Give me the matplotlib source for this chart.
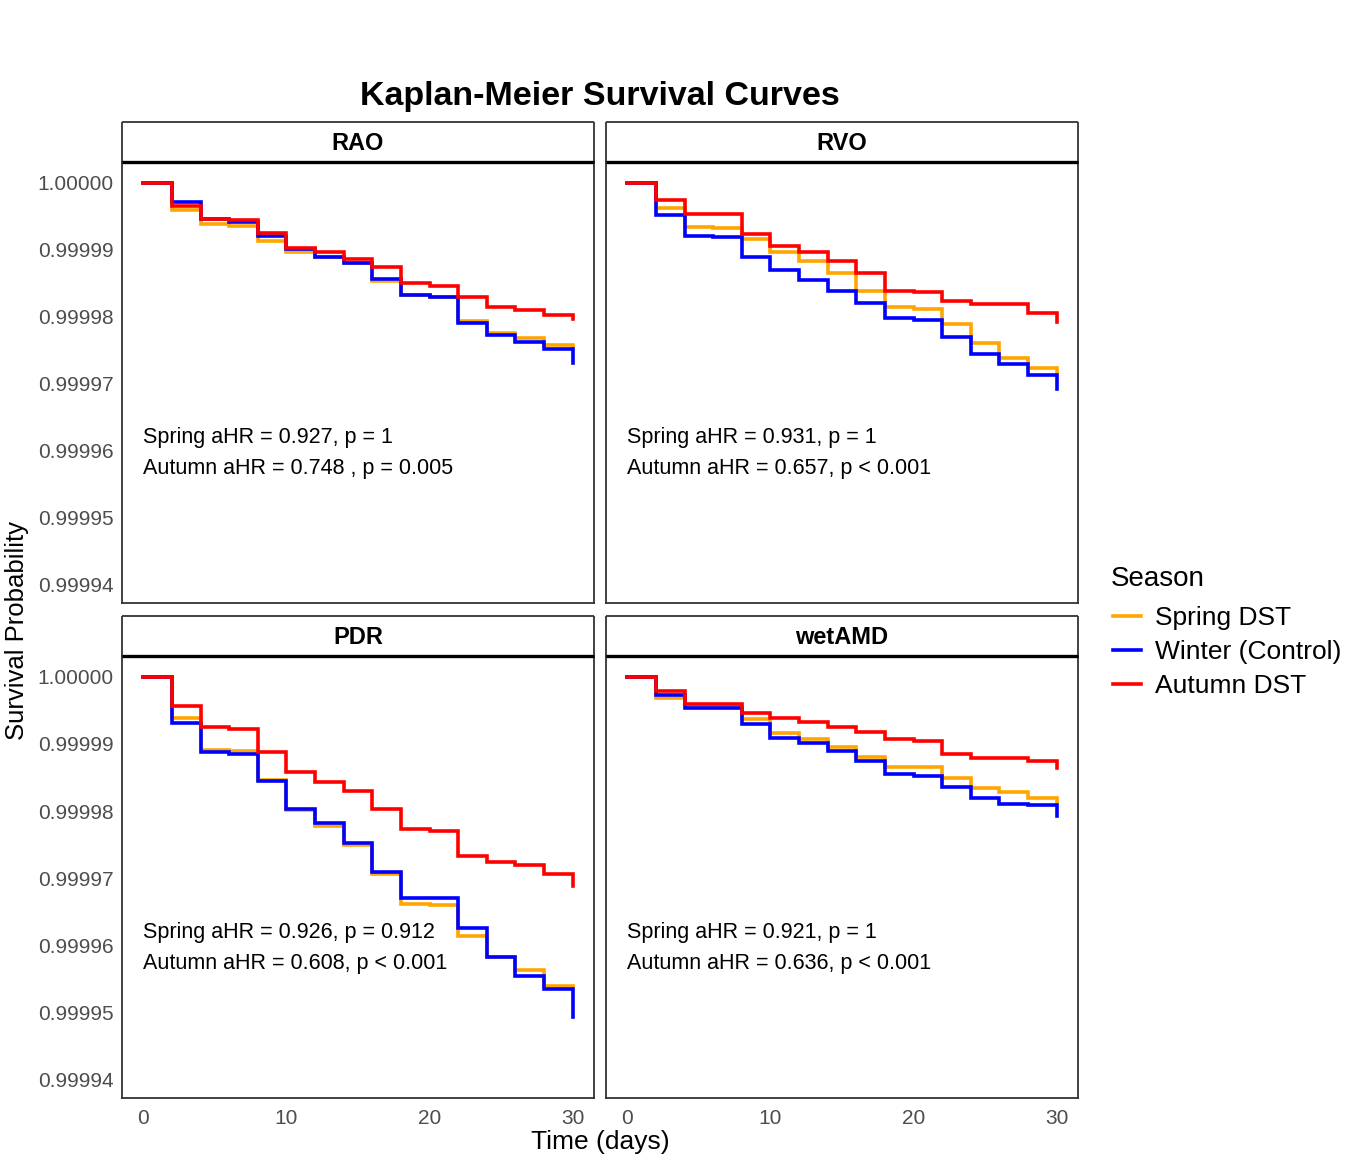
import matplotlib
matplotlib.use("Agg")
import matplotlib.pyplot as plt
from matplotlib.lines import Line2D

plt.rcParams['font.family'] = ['Liberation Sans', 'DejaVu Sans']

# time points (days) where the curves step
dias = [0, 2, 4, 6, 8, 10, 12, 14, 16, 18, 20, 22, 24, 26, 28, 30]

grupos = ["Spring DST", "Winter (Control)", "Autumn DST"]
colores = {"Spring DST": "#FFA500", "Winter (Control)": "#0000FF", "Autumn DST": "#FF0000"}

paneles = ["RAO", "RVO", "PDR", "wetAMD"]

# survival probability
rao_spring = [1.0, 0.9999959, 0.9999938, 0.9999935, 0.9999913, 0.9999896, 0.9999890, 0.9999880,
              0.9999854, 0.9999833, 0.9999829, 0.9999794, 0.9999776, 0.9999768, 0.9999758, 0.9999753]
rao_winter = [1.0, 0.9999972, 0.9999946, 0.9999942, 0.9999921, 0.9999901, 0.9999890, 0.9999880,
              0.9999857, 0.9999833, 0.9999829, 0.9999791, 0.9999773, 0.9999762, 0.9999752, 0.9999731]
rao_autumn = [1.0, 0.9999965, 0.9999946, 0.9999945, 0.9999925, 0.9999903, 0.9999896, 0.9999887,
              0.9999875, 0.9999850, 0.9999846, 0.9999829, 0.9999814, 0.9999810, 0.9999803, 0.9999797]

rvo_spring = [1.0, 0.9999962, 0.9999934, 0.9999932, 0.9999916, 0.9999896, 0.9999883, 0.9999866,
              0.9999839, 0.9999814, 0.9999812, 0.9999789, 0.9999761, 0.9999739, 0.9999723, 0.9999718]
rvo_winter = [1.0, 0.9999952, 0.9999920, 0.9999919, 0.9999889, 0.9999870, 0.9999855, 0.9999839,
              0.9999820, 0.9999798, 0.9999796, 0.9999770, 0.9999745, 0.9999730, 0.9999713, 0.9999692]
rvo_autumn = [1.0, 0.9999975, 0.9999953, 0.9999953, 0.9999924, 0.9999906, 0.9999896, 0.9999884,
              0.9999865, 0.9999839, 0.9999837, 0.9999824, 0.9999819, 0.9999819, 0.9999805, 0.9999792]

pdr_spring = [1.0, 0.9999938, 0.9999891, 0.9999889, 0.9999846, 0.9999801, 0.9999778, 0.9999749,
              0.9999707, 0.9999662, 0.9999661, 0.9999614, 0.9999583, 0.9999564, 0.9999539, 0.9999538]
pdr_winter = [1.0, 0.9999932, 0.9999888, 0.9999885, 0.9999845, 0.9999803, 0.9999782, 0.9999753,
              0.9999709, 0.9999671, 0.9999670, 0.9999626, 0.9999583, 0.9999554, 0.9999535, 0.9999494]
pdr_autumn = [1.0, 0.9999957, 0.9999926, 0.9999923, 0.9999888, 0.9999858, 0.9999844, 0.9999830,
              0.9999803, 0.9999773, 0.9999771, 0.9999733, 0.9999725, 0.9999720, 0.9999706, 0.9999689]

wet_spring = [1.0, 0.9999969, 0.9999958, 0.9999958, 0.9999937, 0.9999916, 0.9999907, 0.9999896,
              0.9999881, 0.9999866, 0.9999866, 0.9999850, 0.9999835, 0.9999828, 0.9999819, 0.9999814]
wet_winter = [1.0, 0.9999973, 0.9999954, 0.9999954, 0.9999930, 0.9999909, 0.9999901, 0.9999890,
              0.9999874, 0.9999855, 0.9999853, 0.9999836, 0.9999820, 0.9999811, 0.9999809, 0.9999793]
wet_autumn = [1.0, 0.9999979, 0.9999960, 0.9999960, 0.9999946, 0.9999938, 0.9999933, 0.9999926,
              0.9999918, 0.9999907, 0.9999905, 0.9999885, 0.9999879, 0.9999879, 0.9999874, 0.9999864]

curvas = {
    "RAO": {"Spring DST": rao_spring, "Winter (Control)": rao_winter, "Autumn DST": rao_autumn},
    "RVO": {"Spring DST": rvo_spring, "Winter (Control)": rvo_winter, "Autumn DST": rvo_autumn},
    "PDR": {"Spring DST": pdr_spring, "Winter (Control)": pdr_winter, "Autumn DST": pdr_autumn},
    "wetAMD": {"Spring DST": wet_spring, "Winter (Control)": wet_winter, "Autumn DST": wet_autumn},
}

textos = {
    "RAO": ["Spring aHR = 0.927, p = 1", "Autumn aHR = 0.748 , p = 0.005"],
    "RVO": ["Spring aHR = 0.931, p = 1", "Autumn aHR = 0.657, p < 0.001"],
    "PDR": ["Spring aHR = 0.926, p = 0.912", "Autumn aHR = 0.608, p < 0.001"],
    "wetAMD": ["Spring aHR = 0.921, p = 1", "Autumn aHR = 0.636, p < 0.001"],
}

y_ticks = [1.00000, 0.99999, 0.99998, 0.99997, 0.99996, 0.99995, 0.99994]
x_ticks = [0, 10, 20, 30]

W, H = 1348, 1167
fig = plt.figure(figsize=(W / 100, H / 100), dpi=100)

def caja(x0, y0, x1, y1):
    # pixel box -> figure fraction [left, bottom, width, height]
    return [x0 / W, 1 - y1 / H, (x1 - x0) / W, (y1 - y0) / H]

posiciones = {
    "RAO": (122, 594, 122, 162, 603),
    "RVO": (606, 1078, 122, 162, 603),
    "PDR": (122, 594, 616, 656, 1098),
    "wetAMD": (606, 1078, 616, 656, 1098),
}

for p in paneles:
    x0, x1, ys, yp, yb = posiciones[p]
    ax = fig.add_axes(caja(x0, yp, x1, yb))
    for g in grupos:
        ax.plot(dias, curvas[p][g], drawstyle='steps-post', color=colores[g], lw=2.6,
                solid_joinstyle='miter')
    ax.set_xlim(-1.5, 31.5)
    ax.set_ylim(0.9999373, 1.0000031)
    ax.set_xticks(x_ticks)
    ax.set_yticks(y_ticks)
    ax.tick_params(length=0, labelsize=15, labelcolor='#4d4d4d', pad=6)
    ax.tick_params(axis='x', pad=8)
    ax.yaxis.set_major_formatter(plt.FuncFormatter(lambda v, _: f"{v:.5f}"))
    if p in ("RVO", "wetAMD"):
        ax.set_yticklabels([])
    if p in ("RAO", "RVO"):
        ax.set_xticklabels([])
    for s in ax.spines.values():
        s.set_color('#333333')
        s.set_linewidth(1.3)
    ax.text(0, 0.99996195, textos[p][0], fontsize=15.5, va='center', ha='left')
    ax.text(0, 0.99995735, textos[p][1], fontsize=15.5, va='center', ha='left')

    # strip
    sax = fig.add_axes(caja(x0, ys, x1, yp))
    sax.set_xticks([])
    sax.set_yticks([])
    for s in sax.spines.values():
        s.set_color('#333333')
        s.set_linewidth(1.3)
        s.set_capstyle('butt')
    sax.spines['bottom'].set_color('black')
    sax.spines['bottom'].set_linewidth(2.4)
    sax.text(0.5, 0.47, p, ha='center', va='center', fontsize=17, fontweight='bold')

fig.text(600 / W, 1 - 96 / H, "Kaplan-Meier Survival Curves", ha='center', va='center',
         fontsize=24.5, fontweight='bold')
fig.text(600 / W, 1 - 1142 / H, "Time (days)", ha='center', va='center', fontsize=19)
fig.text(17 / W, 1 - 630 / H, "Survival Probability", ha='center', va='center',
         fontsize=18.5, rotation=90)

fig.text(1111 / W, 1 - 579 / H, "Season", ha='left', va='center', fontsize=20)
handles = [Line2D([], [], color=colores[g], lw=2.6) for g in grupos]
fig.legend(handles, grupos, loc='upper left', bbox_to_anchor=(1113 / W, 1 - 606 / H),
           frameon=False, fontsize=19, handlelength=1.05, handletextpad=0.55,
           labelspacing=0.38, borderaxespad=0, borderpad=0)

fig.savefig("out.png", dpi=100, facecolor='white')
